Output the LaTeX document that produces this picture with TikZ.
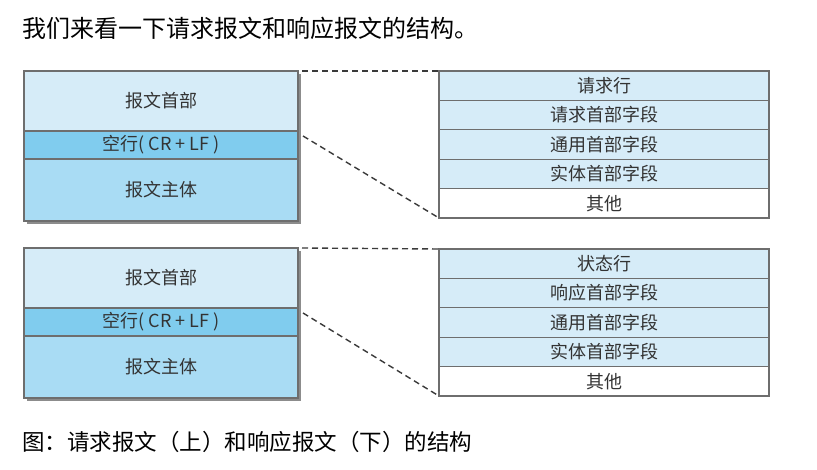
\documentclass[tikz,border=0pt]{standalone}
\usepackage{fontspec}
\usepackage{xcolor}
\usetikzlibrary{positioning,calc,shadows}
\newfontfamily\cjk{Noto Sans CJK SC}
\definecolor{paleblue}{HTML}{D6ECF8}
\definecolor{midblue}{HTML}{80CCEE}
\definecolor{softblue}{HTML}{A9DCF4}
\definecolor{frame}{HTML}{6E6E6E}
\definecolor{shade}{HTML}{8C8C8C}
\definecolor{cutgray}{HTML}{3A3A3A}
\definecolor{inkgray}{HTML}{333333}
\tikzset{
  msgpart/.style={draw=frame,line width=1.3pt,outer sep=0pt,
                  minimum width=274pt,inner sep=0pt,
                  font=\cjk\fontsize{18}{21}\selectfont,text=inkgray,
                  drop shadow={shadow xshift=3pt,shadow yshift=-3pt,fill=shade,opacity=1}},
  headpart/.style={msgpart,fill=paleblue,minimum height=60pt},
  gappart/.style={msgpart,fill=midblue,minimum height=28pt},
  bodypart/.style={msgpart,fill=softblue,minimum height=62pt},
  fieldrow/.style={draw=frame,line width=1.3pt,outer sep=0pt,fill=paleblue,
                   minimum width=330pt,minimum height=29.4pt,inner sep=0pt,
                   font=\cjk\fontsize{18}{21}\selectfont,text=inkgray},
  lastrow/.style={fieldrow,fill=white},
  cutline/.style={draw=cutgray,line width=1.4pt,dash pattern=on 6pt off 4pt},
  headline/.style={font=\cjk\fontsize{24}{27}\selectfont,inner sep=0pt}
}

\begin{document}
\begin{tikzpicture}[x=1pt,y=-1pt]
  \useasboundingbox[fill=white] (0,0) rectangle (817,470);
  \node[headline,anchor=west] (intro) at (22,28) {我们来看一下请求报文和响应报文的结构。};

  \node[headpart,anchor=north west] (reqhead) at (24,71) {报文首部};
  \node[gappart,below=0pt of reqhead] (reqgap) {空行( CR + LF )};
  \node[bodypart,below=0pt of reqgap] (reqbody) {报文主体};
  \node[fieldrow,anchor=north west] (reqline) at (439,71) {请求行};
  \node[fieldrow,below=0pt of reqline] (reqhdr) {请求首部字段};
  \node[fieldrow,below=0pt of reqhdr] (reqgen) {通用首部字段};
  \node[fieldrow,below=0pt of reqgen] (reqent) {实体首部字段};
  \node[lastrow,below=0pt of reqent] (reqrest) {其他};
  \coordinate (reqcut) at ($(reqgap.north east)+(5,5)$);
  \draw[cutline] ([xshift=4pt]reqhead.north east) -- (reqline.north west);
  \draw[cutline] (reqcut) -- (reqrest.south west);

  \node[headpart,anchor=north west] (resphead) at (24,248) {报文首部};
  \node[gappart,below=0pt of resphead] (respgap) {空行( CR + LF )};
  \node[bodypart,below=0pt of respgap] (respbody) {报文主体};
  \node[fieldrow,anchor=north west] (respline) at (439,249) {状态行};
  \node[fieldrow,below=0pt of respline] (resphdr) {响应首部字段};
  \node[fieldrow,below=0pt of resphdr] (respgen) {通用首部字段};
  \node[fieldrow,below=0pt of respgen] (respent) {实体首部字段};
  \node[lastrow,below=0pt of respent] (resprest) {其他};
  \coordinate (respcut) at ($(respgap.north east)+(5,5)$);
  \draw[cutline] ([xshift=4pt]resphead.north east) -- (respline.north west);
  \draw[cutline] (respcut) -- (resprest.south west);

  \node[headline,font=\cjk\fontsize{22.5}{25}\selectfont,anchor=west] (caption) at (22,442)
    {图：请求报文（上）和响应报文（下）的结构};
\end{tikzpicture}
\end{document}
